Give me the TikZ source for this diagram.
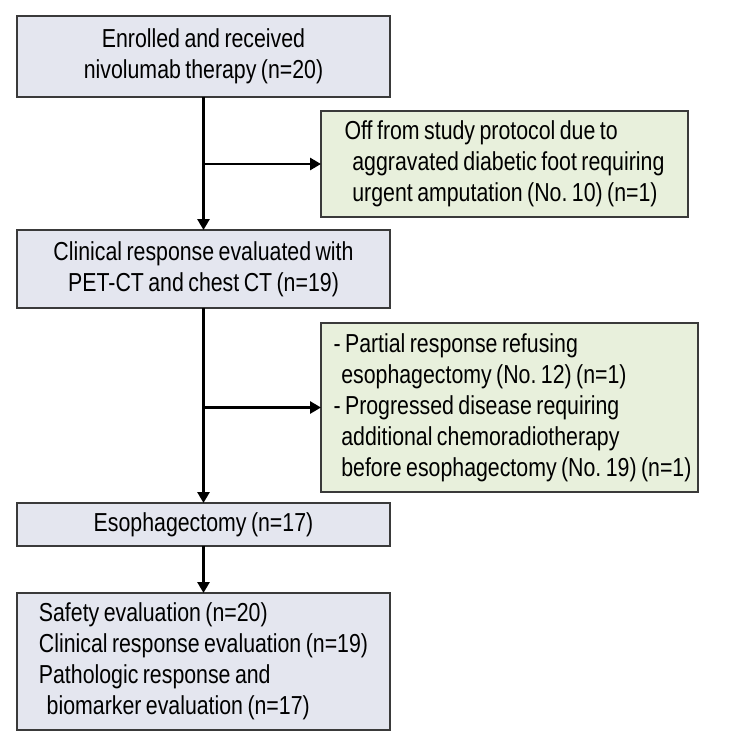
\documentclass[tikz,border=0pt]{standalone}
\usepackage{fontspec}
\setmainfont{Liberation Sans}[FakeStretch=0.82,WordSpace=0.75]
\usetikzlibrary{arrows.meta}

\definecolor{boxblue}{HTML}{E4E6EF}
\definecolor{boxgreen}{HTML}{E8F0DC}
\definecolor{boxline}{HTML}{3A3A3A}
\newcommand{\ind}{\hspace*{0.3em}}

\begin{document}
\begin{tikzpicture}[x=1bp,y=-1bp,
	box/.style={draw=boxline,line width=1.5bp,inner sep=2bp,outer sep=0bp,
		font=\fontsize{26bp}{31bp}\selectfont\frenchspacing},
	mainbox/.style={box,fill=boxblue,minimum width=373bp},
	sidebox/.style={box,fill=boxgreen,align=flush left},
	flow/.style={line width=2.8bp,-{Triangle[length=11bp,width=12bp]}}]
			\useasboundingbox (0,0) rectangle (747,748);
			\node[mainbox,minimum height=81bp,align=center] (enrolled) at (203.5,56.5)
				{Enrolled and received\\nivolumab therapy (n=20)};
			\node[sidebox,minimum width=367bp,minimum height=106bp] (offstudy) at (504.5,164)
				{Off from study protocol due to\\
				\ind aggravated diabetic foot requiring\\
				\ind urgent amputation (No. 10) (n=1)};
			\node[mainbox,minimum height=78bp,align=center] (clinical) at (203.5,269)
				{Clinical response evaluated with\\PET-CT and chest CT (n=19)};
			\node[sidebox,minimum width=377bp,minimum height=169bp] (excluded) at (509.5,407.5)
				{\hspace*{6bp}- Partial response refusing\\
				\hspace*{6bp}\ind esophagectomy (No. 12) (n=1)\\
				\hspace*{6bp}- Progressed disease requiring\\
				\hspace*{6bp}\ind additional chemoradiotherapy\\
				\hspace*{6bp}\ind before esophagectomy (No. 19) (n=1)};
			\node[mainbox,minimum height=43bp,align=center] (surgery) at (203.5,524.5)
				{Esophagectomy (n=17)};
			\node[mainbox,minimum height=137bp,align=flush left] (evaluation) at (203.5,661.5)
				{Safety evaluation (n=20)\\
				Clinical response evaluation (n=19)\\
				Pathologic response and\\
				\ind biomarker evaluation (n=17)};
			% main line
			\draw[flow] (enrolled) -- (clinical);
			\draw[flow] (enrolled.south |- offstudy.west) -- (offstudy.west);
			\draw[flow] (clinical) -- (surgery);
			\draw[flow] (clinical.south |- excluded.west) -- (excluded.west);
			\draw[flow] (surgery) -- (evaluation);
			\end{tikzpicture}
\end{document}
